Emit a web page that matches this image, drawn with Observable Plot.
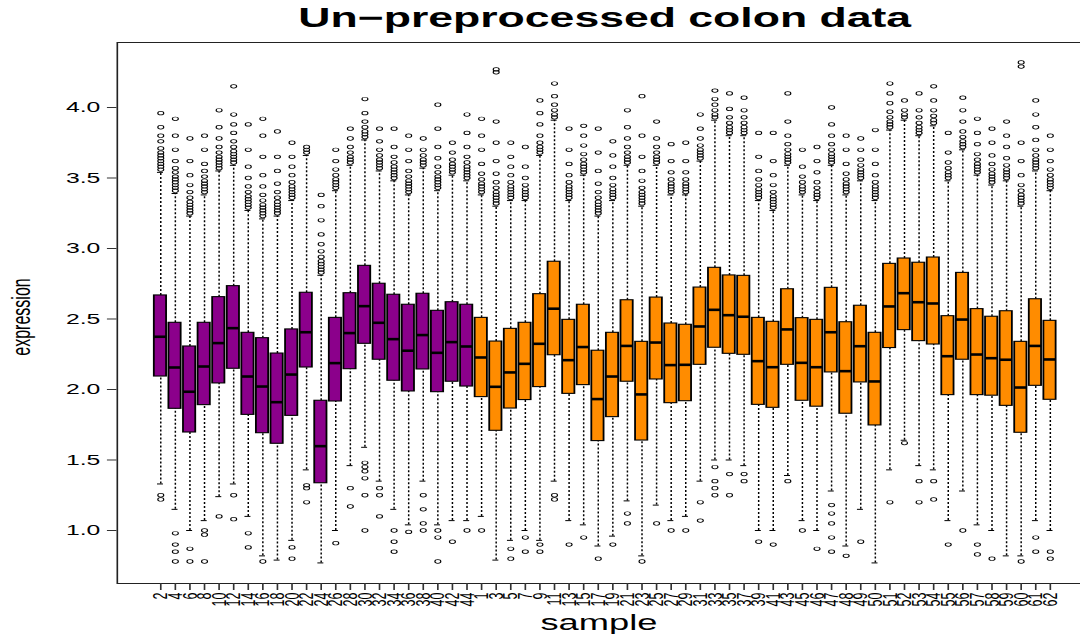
<!DOCTYPE html>
<html><head><meta charset="utf-8">
<script src="https://cdn.jsdelivr.net/npm/d3@7"></script>
<script src="https://cdn.jsdelivr.net/npm/@observablehq/plot@0.6"></script>
<style>
html,body{margin:0;padding:0;background:#fff;overflow:hidden;width:1080px;height:634px;}
#wrap{position:absolute;left:0;top:0;width:664px;transform:scaleX(1.65);transform-origin:0 0;}
#title{height:40px;box-sizing:border-box;padding-top:5px;padding-left:70.6px;padding-right:1.6px;text-align:center;font:bold 27px "Liberation Sans",Arial,sans-serif;line-height:27px;white-space:nowrap;color:#000;}
</style></head><body>
<div id="wrap"><div id="title">Un−preprocessed colon data</div><div id="chart"></div></div>
<script>
const samples = ["2","4","6","8","10","12","14","16","18","20","22","24","26","28","30","32","34","36","38","40","42","44",
  "1","3","5","7","9","11","13","15","17","19","21","23","25","27","29","31","33","35","37","39","41","43",
  "45","46","47","48","49","50","51","52","53","54","55","56","57","58","59","60","61","62"];
const tissue = ["n","n","n","n","n","n","n","n","n","n","n","n","n","n","n","n","n","n","n","n","n","n",
  "t","t","t","t","t","t","t","t","t","t","t","t","t","t","t","t","t","t","t","t","t","t",
  "t","t","t","t","t","t","t","t","t","t","t","t","t","t","t","t","t","t"];
const q3 = [2.667,2.473,2.305,2.473,2.655,2.733,2.402,2.364,2.255,2.426,2.686,1.920,2.508,2.683,2.877,2.750,2.672,2.601,2.679,2.558,2.619,2.601,
  2.508,2.340,2.430,2.473,2.676,2.906,2.494,2.601,2.275,2.402,2.633,2.338,2.652,2.468,2.459,2.723,2.863,2.809,2.806,2.508,
  2.480,2.711,2.506,2.494,2.721,2.477,2.594,2.402,2.891,2.929,2.899,2.936,2.520,2.827,2.570,2.516,2.555,2.338,2.640,2.487];
const median = [2.374,2.156,1.984,2.163,2.329,2.435,2.092,2.021,1.910,2.106,2.406,1.598,2.187,2.400,2.591,2.473,2.357,2.275,2.386,2.260,2.336,2.305,
  2.227,2.019,2.121,2.182,2.324,2.573,2.208,2.301,1.932,2.092,2.309,1.965,2.333,2.173,2.175,2.447,2.565,2.527,2.516,2.201,
  2.158,2.426,2.189,2.158,2.406,2.130,2.307,2.057,2.589,2.683,2.619,2.610,2.236,2.496,2.248,2.222,2.211,2.014,2.309,2.213];
const q1 = [2.092,1.863,1.695,1.889,2.043,2.147,1.820,1.690,1.615,1.813,2.156,1.335,1.915,2.144,2.324,2.211,2.062,1.986,2.142,1.981,2.055,2.021,
  1.946,1.707,1.865,1.925,2.017,2.243,1.969,2.031,1.634,1.804,2.055,1.638,2.071,1.903,1.917,2.175,2.296,2.253,2.246,1.891,
  1.870,2.175,1.920,1.878,2.121,1.828,2.050,1.745,2.294,2.421,2.343,2.319,1.960,2.211,1.960,1.956,1.884,1.693,2.026,1.927];
const whiskerHigh = [3.54,3.39,3.23,3.38,3.55,3.59,3.27,3.21,3.23,3.34,3.66,2.81,3.41,3.59,3.77,3.55,3.48,3.38,3.57,3.41,3.52,3.48,
  3.38,3.30,3.34,3.34,3.66,3.91,3.34,3.52,3.23,3.34,3.59,3.30,3.59,3.38,3.38,3.62,3.91,3.80,3.80,3.34,
  3.27,3.59,3.38,3.34,3.59,3.38,3.48,3.34,3.84,3.91,3.80,3.87,3.48,3.70,3.52,3.45,3.48,3.30,3.55,3.41];
const whiskerLow = [1.33,1.15,1.00,1.07,1.24,1.33,1.10,0.82,0.79,0.93,1.43,0.77,1.00,1.46,1.59,1.35,1.15,1.04,1.35,1.04,1.07,1.07,
  1.10,0.79,0.93,1.00,0.93,1.35,1.07,1.04,0.89,0.96,1.21,0.82,1.18,1.07,1.10,1.35,1.50,1.50,1.46,1.00,
  1.00,1.39,1.07,1.00,1.28,0.89,1.15,0.77,1.43,1.64,1.46,1.43,1.07,1.28,1.04,1.00,0.82,0.82,1.07,1.00];
const outliersHigh = [
  [3.56,3.58,3.60,3.62,3.64,3.66,3.68,3.71,3.76,3.80,3.86,3.96],
  [3.41,3.43,3.45,3.47,3.49,3.51,3.54,3.57,3.62,3.70,3.80,3.92],
  [3.25,3.27,3.29,3.31,3.33,3.36,3.40,3.45,3.52,3.62,3.78],
  [3.40,3.42,3.44,3.46,3.48,3.51,3.55,3.60,3.70,3.80],
  [3.57,3.59,3.61,3.63,3.65,3.68,3.72,3.78,3.86,3.98],
  [3.61,3.63,3.65,3.67,3.69,3.72,3.76,3.82,3.88,3.95,4.15],
  [3.29,3.31,3.33,3.35,3.37,3.40,3.44,3.50,3.58,3.70,3.88],
  [3.23,3.25,3.27,3.29,3.31,3.34,3.38,3.44,3.52,3.65,3.80,3.92],
  [3.25,3.27,3.29,3.31,3.33,3.36,3.40,3.46,3.55,3.65,3.83],
  [3.36,3.38,3.40,3.42,3.44,3.47,3.52,3.58,3.65,3.75],
  [3.68,3.70,3.72],
  [2.83,2.85,2.87,2.89,2.91,2.94,2.98,3.03,3.10,3.20,3.30,3.38],
  [3.43,3.45,3.47,3.49,3.52,3.56,3.62,3.70],
  [3.61,3.63,3.65,3.68,3.72,3.78,3.85],
  [3.79,3.81,3.83,3.86,3.90,3.96,4.06],
  [3.57,3.59,3.61,3.63,3.66,3.70,3.76,3.85],
  [3.50,3.52,3.54,3.56,3.58,3.61,3.65,3.72,3.85],
  [3.40,3.42,3.44,3.46,3.48,3.51,3.55,3.62,3.70,3.80],
  [3.59,3.61,3.63,3.66,3.70,3.78],
  [3.43,3.45,3.47,3.49,3.51,3.54,3.58,3.64,3.72,3.85,4.02],
  [3.54,3.56,3.58,3.60,3.63,3.68,3.75],
  [3.50,3.52,3.54,3.56,3.58,3.61,3.65,3.72,3.82,3.95],
  [3.40,3.42,3.44,3.46,3.49,3.53,3.60,3.70,3.80,3.92],
  [3.32,3.34,3.36,3.38,3.40,3.43,3.47,3.53,3.62,3.75,3.90,4.25,4.27],
  [3.36,3.38,3.40,3.42,3.44,3.47,3.52,3.58,3.65,3.75],
  [3.36,3.38,3.40,3.42,3.45,3.50,3.58,3.72],
  [3.68,3.70,3.72,3.75,3.80,3.88,3.96,4.05],
  [3.93,3.95,3.98,4.02,4.08,4.17],
  [3.36,3.38,3.40,3.42,3.44,3.47,3.52,3.60,3.70,3.85],
  [3.54,3.56,3.58,3.60,3.63,3.67,3.73,3.80,3.87],
  [3.25,3.27,3.29,3.31,3.33,3.36,3.40,3.46,3.55,3.68,3.85],
  [3.36,3.38,3.40,3.42,3.45,3.50,3.58,3.66,3.76],
  [3.61,3.63,3.65,3.68,3.72,3.78,3.86,3.98],
  [3.32,3.34,3.36,3.38,3.40,3.43,3.48,3.55,3.65,3.80,4.08],
  [3.61,3.63,3.65,3.68,3.72,3.78,3.90],
  [3.40,3.42,3.44,3.46,3.49,3.54,3.62,3.74],
  [3.40,3.42,3.44,3.46,3.49,3.54,3.62,3.75],
  [3.64,3.66,3.68,3.70,3.73,3.78,3.85,3.95],
  [3.93,3.95,3.98,4.02,4.06,4.12],
  [3.82,3.84,3.86,3.89,3.93,3.99,4.10],
  [3.82,3.84,3.86,3.89,3.93,3.98,4.07],
  [3.36,3.38,3.40,3.42,3.45,3.49,3.55,3.65,3.82],
  [3.29,3.31,3.33,3.35,3.37,3.40,3.45,3.52,3.62,3.82],
  [3.61,3.63,3.65,3.67,3.70,3.74,3.80,3.90,4.10],
  [3.40,3.42,3.44,3.47,3.51,3.58,3.70],
  [3.36,3.38,3.40,3.43,3.47,3.54,3.62,3.72],
  [3.61,3.63,3.65,3.67,3.70,3.74,3.80,3.88,4.00],
  [3.40,3.42,3.44,3.46,3.49,3.53,3.60,3.70,3.80],
  [3.50,3.52,3.54,3.56,3.59,3.63,3.70,3.78],
  [3.36,3.38,3.40,3.42,3.44,3.47,3.52,3.60,3.70,3.84],
  [3.86,3.88,3.90,3.93,3.97,4.03,4.10,4.17],
  [3.93,3.95,3.98,4.05],
  [3.82,3.84,3.86,3.89,3.93,3.98,4.10],
  [3.89,3.91,3.94,3.98,4.05,4.15],
  [3.50,3.52,3.54,3.57,3.61,3.68,3.82],
  [3.72,3.74,3.76,3.79,3.83,3.90,3.98,4.07],
  [3.54,3.56,3.58,3.60,3.63,3.67,3.74,3.82,3.92],
  [3.47,3.49,3.51,3.53,3.56,3.60,3.66,3.75,3.85],
  [3.50,3.52,3.54,3.56,3.59,3.64,3.72,3.80,3.90],
  [3.32,3.34,3.36,3.38,3.41,3.45,3.52,3.62,3.75,4.29,4.32],
  [3.57,3.59,3.61,3.63,3.66,3.70,3.77,3.86,3.95,4.05],
  [3.43,3.45,3.47,3.49,3.52,3.56,3.62,3.70,3.80]
];
const outliersLow = [
  [1.25,1.22],[0.98,0.90,0.85,0.78],[0.87,0.78],[1.00,0.97,0.78],[1.10],[1.25,1.08],[0.98,0.88],[0.78],[],[0.88,0.80],
  [1.32,1.30,1.20],[],[0.91],[1.30,1.17],[1.48,1.45,1.42,1.37,1.25,1.00],[1.30,1.25,1.10],[1.00,0.92,0.85],[0.99],[1.25,1.15,1.05,1.00],[1.00,0.95,0.78],
  [0.92],[1.00],
  [1.00],[],[0.87,0.80],[0.95,0.85],[0.90,0.85],[1.25,1.22],[0.90],[0.95],[0.80],[0.90],
  [1.12,1.05],[0.78],[1.05],[1.00],[1.00],[1.20,1.07],[1.45,1.35,1.30,1.25],[1.40,1.25],[1.40,1.35],[0.92],
  [0.90],[1.35],[1.00],[0.87],[1.18,1.12,1.05,0.95,0.85],[0.82],[0.92],[],[1.20],[1.62],
  [1.35,1.20],[1.35,1.22],[0.90],[1.00],[0.90,0.83],[0.80],[],[0.78],[0.95,0.85],[0.85,0.80]
];
const yTicks = [1.0,1.5,2.0,2.5,3.0,3.5,4.0];

const boxes = samples.map((s,i)=>({sample:s, tissue:tissue[i], q1:q1[i], med:median[i], q3:q3[i], lo:whiskerLow[i], hi:whiskerHigh[i]}));
const outs = samples.flatMap((s,i)=>outliersHigh[i].concat(outliersLow[i]).map(v=>({sample:s, value:v})));

const chart = Plot.plot({
  width: 664, height: 594,
  marginLeft: 70.6, marginRight: 1.6, marginTop: 2, marginBottom: 51,
  style: {fontFamily: "'Liberation Sans', Arial, sans-serif", background: "white", color: "black", overflow: "visible"},
  x: {type: "band", domain: samples, paddingInner: 0.16, paddingOuter: 2.56, align: 0.5, axis: null},
  y: {domain: [0.624, 4.461], axis: null},
  color: {domain: ["n","t"], range: ["#8B008B","#FF8C00"]},
  marks: [
    Plot.ruleX(boxes, {x: "sample", y1: "q3", y2: "hi", stroke: "black", strokeWidth: 0.9, strokeDasharray: "2,2"}),
    Plot.ruleX(boxes, {x: "sample", y1: "lo", y2: "q1", stroke: "black", strokeWidth: 0.9, strokeDasharray: "2,2"}),
    Plot.tickY(boxes, {x: "sample", y: "hi", stroke: "black", strokeWidth: 1, insetLeft: 1.9, insetRight: 1.9}),
    Plot.tickY(boxes, {x: "sample", y: "lo", stroke: "black", strokeWidth: 1, insetLeft: 1.9, insetRight: 1.9}),
    Plot.barY(boxes, {x: "sample", y1: "q1", y2: "q3", fill: "tissue", stroke: "black", strokeWidth: 1.1}),
    Plot.tickY(boxes, {x: "sample", y: "med", stroke: "black", strokeWidth: 2.6}),
    Plot.dot(outs, {x: "sample", y: "value", r: 1.8, stroke: "black", strokeWidth: 0.7, fill: "none"}),
    Plot.frame({stroke: "#222", strokeWidth: 1}),
    Plot.axisY({ticks: yTicks, tickFormat: ".1f", tickSize: 5.8, tickPadding: 4.5, fontSize: 15, label: null, stroke: "#333"}),
    Plot.axisX({tickRotate: -90, fontSize: 12.5, tickSize: 7, tickPadding: 2, label: null, stroke: "#333"}),
    Plot.text(["expression"], {text: d => d, frameAnchor: "left", textAnchor: "middle", lineAnchor: "middle", dx: -58, dy: 4, rotate: -90, fontSize: 16}),
    Plot.text(["sample"], {text: d => d, frameAnchor: "bottom", textAnchor: "middle", lineAnchor: "middle", dy: 39, dx: -4, fontSize: 22})
  ]
});
document.getElementById("chart").appendChild(chart);
</script>
</body></html>
